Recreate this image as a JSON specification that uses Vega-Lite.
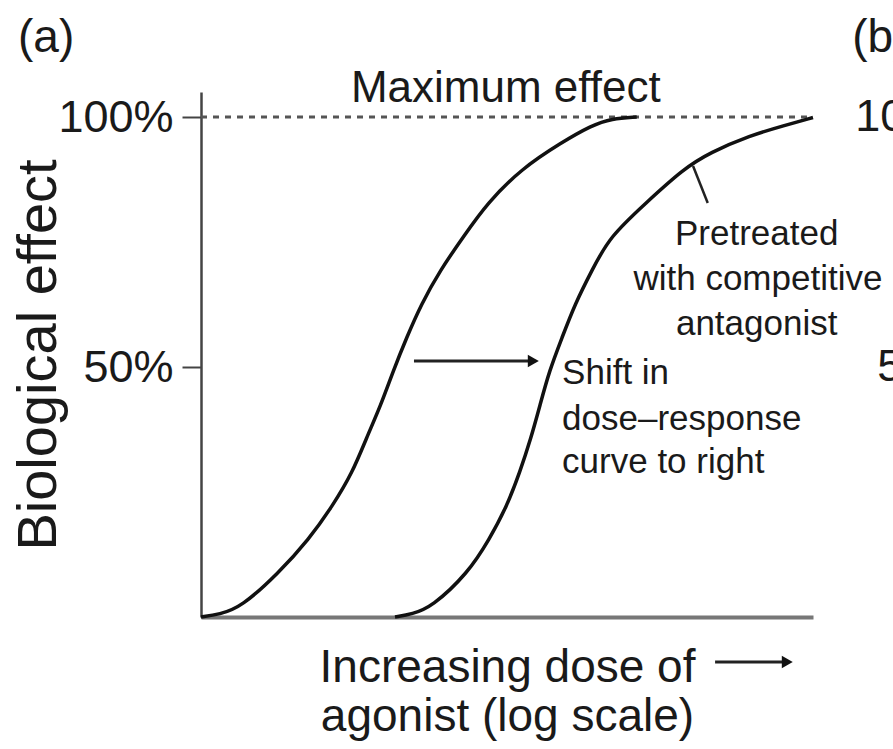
{
  "$schema": "https://vega.github.io/schema/vega-lite/v6.json",
  "width": 612,
  "height": 525,
  "autosize": {"type": "none"},
  "padding": {"left": 201, "top": 92, "right": 80, "bottom": 132},
  "background": "white",
  "config": {"font": "Liberation Sans", "view": {"stroke": null}, "axis": {"grid": false}},
  "datasets": {
    "curves": [
      {"series": "Agonist alone", "dose": 0, "effect": 0},
      {"series": "Agonist alone", "dose": 3, "effect": 0.5},
      {"series": "Agonist alone", "dose": 6.6, "effect": 2.0},
      {"series": "Agonist alone", "dose": 12.65, "effect": 8.75},
      {"series": "Agonist alone", "dose": 17.6, "effect": 15.5},
      {"series": "Agonist alone", "dose": 21.5, "effect": 22.2},
      {"series": "Agonist alone", "dose": 24.8, "effect": 29.0},
      {"series": "Agonist alone", "dose": 27.0, "effect": 35.7},
      {"series": "Agonist alone", "dose": 29.4, "effect": 42.4},
      {"series": "Agonist alone", "dose": 31.4, "effect": 49.2},
      {"series": "Agonist alone", "dose": 33.6, "effect": 55.9},
      {"series": "Agonist alone", "dose": 36.0, "effect": 62.6},
      {"series": "Agonist alone", "dose": 39.1, "effect": 69.4},
      {"series": "Agonist alone", "dose": 42.9, "effect": 76.1},
      {"series": "Agonist alone", "dose": 46.8, "effect": 82.8},
      {"series": "Agonist alone", "dose": 52.3, "effect": 89.6},
      {"series": "Agonist alone", "dose": 58.9, "effect": 94.9},
      {"series": "Agonist alone", "dose": 63.8, "effect": 98.3},
      {"series": "Agonist alone", "dose": 67.1, "effect": 99.7},
      {"series": "Agonist alone", "dose": 71.2, "effect": 100},
      {"series": "Pretreated", "dose": 31.7, "effect": 0},
      {"series": "Pretreated", "dose": 34.5, "effect": 0.6},
      {"series": "Pretreated", "dose": 37.7, "effect": 2.0},
      {"series": "Pretreated", "dose": 43.6, "effect": 8.75},
      {"series": "Pretreated", "dose": 47.1, "effect": 15.5},
      {"series": "Pretreated", "dose": 50.0, "effect": 22.2},
      {"series": "Pretreated", "dose": 52.1, "effect": 29.0},
      {"series": "Pretreated", "dose": 53.9, "effect": 35.7},
      {"series": "Pretreated", "dose": 55.4, "effect": 42.4},
      {"series": "Pretreated", "dose": 56.9, "effect": 49.2},
      {"series": "Pretreated", "dose": 59.0, "effect": 55.9},
      {"series": "Pretreated", "dose": 61.1, "effect": 62.6},
      {"series": "Pretreated", "dose": 63.9, "effect": 69.4},
      {"series": "Pretreated", "dose": 66.8, "effect": 76.1},
      {"series": "Pretreated", "dose": 72.7, "effect": 82.8},
      {"series": "Pretreated", "dose": 78.8, "effect": 89.6},
      {"series": "Pretreated", "dose": 83.2, "effect": 92.9},
      {"series": "Pretreated", "dose": 89.7, "effect": 96.3},
      {"series": "Pretreated", "dose": 95.3, "effect": 98.3},
      {"series": "Pretreated", "dose": 100, "effect": 99.9}
    ],
    "maxline": [{"dose": 0, "dose2": 100, "effect": 100}],
    "shafts": [
      {"name": "shift", "dose": 34.8, "dose2": 54.0, "effect": 51.2},
      {"name": "dose axis", "dose": 84.0, "dose2": 95.5, "effect": -9}
    ],
    "heads": [
      {"name": "shift", "dose": 54.3, "effect": 51.2},
      {"name": "dose axis", "dose": 95.8, "effect": -9}
    ],
    "leader": [{"dose": 80.4, "effect": 90.2, "dose2": 82.8, "effect2": 82.8}],
    "maxlabel": [{"label": "Maximum effect", "dose": 49.8, "effect": 103}],
    "panels": [
      {"label": "(a)", "dose": -29.9, "effect": 113},
      {"label": "(b)", "dose": 106.4, "effect": 113}
    ],
    "panelb_ticks": [
      {"label": "100%", "dose": 106.9, "effect": 100},
      {"label": "50%", "dose": 110.5, "effect": 50}
    ],
    "note_pre": [
      {"label": "Pretreated", "dose": 90.8, "effect": 74.4},
      {"label": "with competitive", "dose": 91.0, "effect": 65.4},
      {"label": "antagonist", "dose": 90.8, "effect": 56.4}
    ],
    "note_shift": [
      {"label": "Shift in", "dose": 59.0, "effect": 46.6},
      {"label": "dose–response", "dose": 59.0, "effect": 37.4},
      {"label": "curve to right", "dose": 59.0, "effect": 28.8}
    ]
  },
  "layer": [
    {
      "data": {"name": "maxline"},
      "mark": {"type": "rule", "strokeDash": [6, 6], "strokeWidth": 3, "color": "#555"},
      "encoding": {
        "x": {"field": "dose", "type": "quantitative", "scale": {"domain": [0, 100], "nice": false, "zero": false},
          "axis": {"ticks": false, "labels": false, "domainColor": "#777", "domainWidth": 4,
            "title": ["Increasing dose of", "agonist (log scale)"], "titleFontSize": 46, "titleLineHeight": 49,
            "titleFontWeight": "normal", "titleColor": "#1a1a1a", "titlePadding": 28}},
        "x2": {"field": "dose2"},
        "y": {"field": "effect", "type": "quantitative", "scale": {"domain": [0, 105], "nice": false, "zero": false},
          "axis": {"values": [50, 100], "labelExpr": "datum.value + '%'", "tickSize": 19, "labelPadding": 9,
            "labelFontSize": 45, "labelColor": "#1a1a1a", "tickColor": "#444", "tickWidth": 2,
            "domainColor": "#444", "domainWidth": 2.5, "title": "Biological effect", "titleFontSize": 56,
            "titleFontWeight": "normal", "titleColor": "#1a1a1a", "titlePadding": -10}}
      }
    },
    {
      "data": {"name": "curves"},
      "mark": {"type": "line", "interpolate": "basis", "strokeWidth": 3.5, "color": "#111"},
      "encoding": {
        "x": {"field": "dose", "type": "quantitative"},
        "y": {"field": "effect", "type": "quantitative"},
        "detail": {"field": "series"}
      }
    },
    {
      "data": {"name": "shafts"},
      "mark": {"type": "rule", "strokeWidth": 3, "color": "#222"},
      "encoding": {
        "x": {"field": "dose", "type": "quantitative"},
        "x2": {"field": "dose2"},
        "y": {"field": "effect", "type": "quantitative"}
      }
    },
    {
      "data": {"name": "heads"},
      "mark": {"type": "point", "shape": "triangle-right", "filled": true, "size": 160, "color": "#111", "opacity": 1},
      "encoding": {
        "x": {"field": "dose", "type": "quantitative"},
        "y": {"field": "effect", "type": "quantitative"}
      }
    },
    {
      "data": {"name": "leader"},
      "mark": {"type": "rule", "strokeWidth": 2.5, "color": "#222"},
      "encoding": {
        "x": {"field": "dose", "type": "quantitative"},
        "x2": {"field": "dose2"},
        "y": {"field": "effect", "type": "quantitative"},
        "y2": {"field": "effect2"}
      }
    },
    {
      "data": {"name": "maxlabel"},
      "mark": {"type": "text", "fontSize": 44, "align": "center", "baseline": "alphabetic", "color": "#1a1a1a"},
      "encoding": {
        "x": {"field": "dose", "type": "quantitative"},
        "y": {"field": "effect", "type": "quantitative"},
        "text": {"field": "label"}
      }
    },
    {
      "data": {"name": "panels"},
      "mark": {"type": "text", "fontSize": 46, "align": "left", "baseline": "alphabetic", "color": "#1a1a1a"},
      "encoding": {
        "x": {"field": "dose", "type": "quantitative"},
        "y": {"field": "effect", "type": "quantitative"},
        "text": {"field": "label"}
      }
    },
    {
      "data": {"name": "panelb_ticks"},
      "mark": {"type": "text", "fontSize": 45, "align": "left", "baseline": "middle", "color": "#1a1a1a"},
      "encoding": {
        "x": {"field": "dose", "type": "quantitative"},
        "y": {"field": "effect", "type": "quantitative"},
        "text": {"field": "label"}
      }
    },
    {
      "data": {"name": "note_pre"},
      "mark": {"type": "text", "fontSize": 35, "align": "center", "baseline": "alphabetic", "color": "#1a1a1a"},
      "encoding": {
        "x": {"field": "dose", "type": "quantitative"},
        "y": {"field": "effect", "type": "quantitative"},
        "text": {"field": "label"}
      }
    },
    {
      "data": {"name": "note_shift"},
      "mark": {"type": "text", "fontSize": 35, "align": "left", "baseline": "alphabetic", "color": "#1a1a1a"},
      "encoding": {
        "x": {"field": "dose", "type": "quantitative"},
        "y": {"field": "effect", "type": "quantitative"},
        "text": {"field": "label"}
      }
    }
  ]
}
